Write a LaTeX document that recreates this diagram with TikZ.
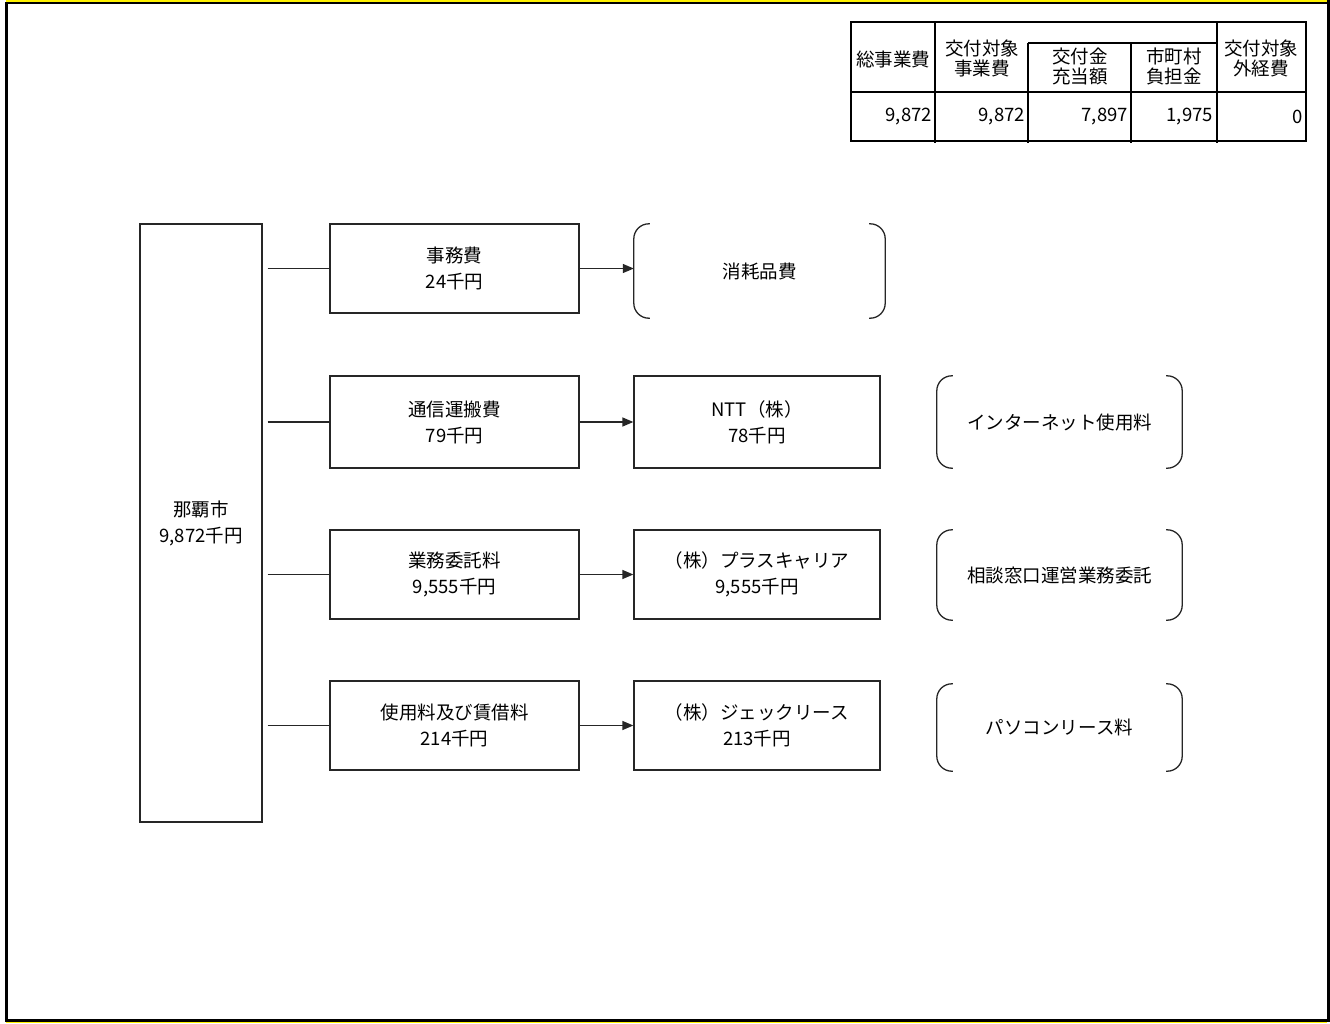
\documentclass[tikz,border=0pt]{standalone}
\usepackage{fontspec}
\setmainfont{Noto Sans CJK JP}
\usetikzlibrary{arrows.meta}
\newcommand{\bracketpair}[1]{%
  \draw[brkline] ([xshift=16pt]#1.north west) -- (#1.north west) -- (#1.south west) -- ([xshift=16pt]#1.south west);
  \draw[brkline] ([xshift=-16pt]#1.north east) -- (#1.north east) -- (#1.south east) -- ([xshift=-16pt]#1.south east);}
\begin{document}
\begin{tikzpicture}[x=1pt,y=-1pt,
  txt/.style={font=\fontsize{18.5}{26}\selectfont},
  box/.style={draw=black!85, line width=1.3pt, inner sep=0pt, align=center, txt},
  brk/.style={inner sep=0pt, align=center, txt},
  brkline/.style={line width=1.3pt, draw=black!85, rounded corners=15pt},
  conn/.style={line width=1.3pt, draw=black!85},
  arr/.style={line width=1.3pt, draw=black!85, -{Triangle[length=11pt,width=9pt]}},
  tl/.style={line width=2pt},
  th/.style={font=\fontsize{18.5}{19.5}\selectfont, align=center, inner sep=0pt},
  tn/.style={font=\fontsize{18.5}{19.5}\selectfont, anchor=east, inner sep=0pt}]
\useasboundingbox (0,0) rectangle (1330,1023);
\fill[white] (0,0) rectangle (1330,1023);
% frame
\fill[yellow] (6,0) rectangle (1327,2);
\fill[yellow] (6,1021.5) rectangle (1327,1023);
\draw[line width=2pt] (6.5,3) -- (1327,3);
\draw[line width=3pt] (6.5,2) -- (6.5,1021.5);
\draw[line width=3pt] (1328,0) -- (1328,1021.5);
\draw[line width=2.5pt] (5,1020.5) -- (1329.5,1020.5);

% main box
\node[box, minimum width=122pt, minimum height=598pt] (main) at (201,523) {那覇市\\9,872千円};

% column 2
\node[box, minimum width=249pt, minimum height=89pt] (c2a) at (454.5,268.5) {事務費\\24千円};
\node[box, minimum width=249pt, minimum height=92pt] (c2b) at (454.5,422) {通信運搬費\\79千円};
\node[box, minimum width=249pt, minimum height=89pt] (c2c) at (454.5,574.5) {業務委託料\\9,555千円};
\node[box, minimum width=249pt, minimum height=89pt] (c2d) at (454.5,725.5) {使用料及び賃借料\\214千円};

% column 3
\node[brk, minimum width=251pt, minimum height=94pt] (c3a) at (759.5,271) {消耗品費};
\node[box, minimum width=246pt, minimum height=92pt] (c3b) at (757,422) {NTT（株）\\78千円};
\node[box, minimum width=246pt, minimum height=89pt] (c3c) at (757,574.5) {（株）プラスキャリア\\9,555千円};
\node[box, minimum width=246pt, minimum height=89pt] (c3d) at (757,725.5) {（株）ジェックリース\\213千円};
\bracketpair{c3a}

% column 4
\node[brk, minimum width=245pt, minimum height=92pt] (c4b) at (1059.5,422) {インターネット使用料};
\node[brk, minimum width=245pt, minimum height=90pt] (c4c) at (1059.5,575) {相談窓口運営業務委託};
\node[brk, minimum width=245pt, minimum height=87pt] (c4d) at (1059.5,727.5) {パソコンリース料};
\bracketpair{c4b}
\bracketpair{c4c}
\bracketpair{c4d}

% connectors
\foreach \n in {c2a,c2b,c2c,c2d}{
  \draw[conn] ([xshift=5pt]main.east |- \n.west) -- (\n.west);
}
\draw[arr] (c2a.east) -- (c2a.east -| c3a.west);
\draw[arr] (c2b.east) -- (c3b.west);
\draw[arr] (c2c.east) -- (c3c.west);
\draw[arr] (c2d.east) -- (c3d.west);

% table
\draw[tl] (851,22) rectangle (1306,141);
\draw[tl] (851,92) -- (1306,92);
\draw[tl] (1028,43) -- (1217,43);
\draw[tl] (935,22) -- (935,143);
\draw[tl] (1028,43) -- (1028,143);
\draw[tl] (1131,43) -- (1131,143);
\draw[tl] (1217,22) -- (1217,143);
\node[th] (h1) at (893,59) {総事業費};
\node[th] (h2) at (982,58.5) {交付対象\\事業費};
\node[th] (h3) at (1080,66.5) {交付金\\充当額};
\node[th] (h4) at (1174,66.5) {市町村\\負担金};
\node[th] (h5) at (1261,58.5) {交付対象\\外経費};
\node[tn] (v1) at (932,117) {9,872};
\node[tn] (v2) at (1025,117) {9,872};
\node[tn] (v3) at (1128,117) {7,897};
\node[tn] (v4) at (1213,117) {1,975};
\node[tn] (v5) at (1303,117) {0};
\end{tikzpicture}
\end{document}
